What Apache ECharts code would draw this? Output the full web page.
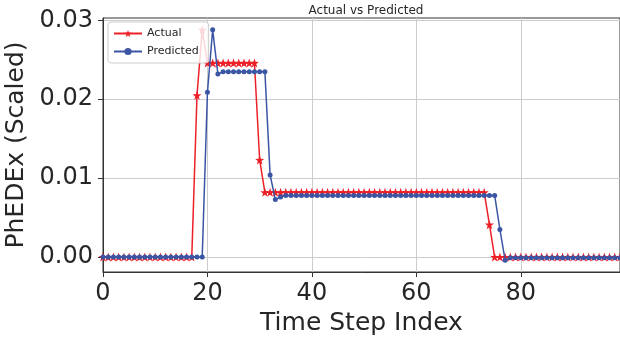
<!DOCTYPE html>
<html>
<head>
<meta charset="utf-8">
<script src="https://cdn.jsdelivr.net/npm/echarts@6/dist/echarts.min.js"></script>
<style>
  html, body { margin: 0; padding: 0; background: #fff; }
  #chart { width: 620px; height: 338px; }
</style>
</head>
<body>
<div id="chart"></div>
<script>
// values, one per time step (0..99)
var actual = [
  0, 0, 0, 0, 0, 0, 0, 0, 0, 0,
  0, 0, 0, 0, 0, 0, 0, 0, 0.0205, 0.0288,
  0.0246, 0.0246, 0.0246, 0.0246, 0.0246, 0.0246, 0.0246, 0.0246, 0.0246, 0.0246,
  0.0123, 0.0082, 0.0082, 0.0082, 0.0082, 0.0082, 0.0082, 0.0082, 0.0082, 0.0082,
  0.0082, 0.0082, 0.0082, 0.0082, 0.0082, 0.0082, 0.0082, 0.0082, 0.0082, 0.0082,
  0.0082, 0.0082, 0.0082, 0.0082, 0.0082, 0.0082, 0.0082, 0.0082, 0.0082, 0.0082,
  0.0082, 0.0082, 0.0082, 0.0082, 0.0082, 0.0082, 0.0082, 0.0082, 0.0082, 0.0082,
  0.0082, 0.0082, 0.0082, 0.0082, 0.0041, 0, 0, 0, 0, 0,
  0, 0, 0, 0, 0, 0, 0, 0, 0, 0,
  0, 0, 0, 0, 0, 0, 0, 0, 0, 0
]
var predicted = [
  0, 0, 0, 0, 0, 0, 0, 0, 0, 0,
  0, 0, 0, 0, 0, 0, 0, 0, 0, 0,
  0.0209, 0.0288, 0.0232, 0.0235, 0.0235, 0.0235, 0.0235, 0.0235, 0.0235, 0.0235,
  0.0235, 0.0235, 0.0104, 0.0073, 0.0076, 0.0078, 0.0078, 0.0078, 0.0078, 0.0078,
  0.0078, 0.0078, 0.0078, 0.0078, 0.0078, 0.0078, 0.0078, 0.0078, 0.0078, 0.0078,
  0.0078, 0.0078, 0.0078, 0.0078, 0.0078, 0.0078, 0.0078, 0.0078, 0.0078, 0.0078,
  0.0078, 0.0078, 0.0078, 0.0078, 0.0078, 0.0078, 0.0078, 0.0078, 0.0078, 0.0078,
  0.0078, 0.0078, 0.0078, 0.0078, 0.0078, 0.0078, 0.0035, -0.0004, -0.0001, -0.0001,
  -0.0001, -0.0001, -0.0001, -0.0001, -0.0001, -0.0001, -0.0001, -0.0001, -0.0001, -0.0001,
  -0.0001, -0.0001, -0.0001, -0.0001, -0.0001, -0.0001, -0.0001, -0.0001, -0.0001, -0.0001
]
var xTicks = [0, 20, 40, 60, 80]
var yTicks = [0, 0.01, 0.02, 0.03]

var toPairs = function (arr) {
  return arr.map(function (v, i) { return [i, v] })
}

var font = 'DejaVu Sans'
var ink = '#262626'

var myChart = echarts.init(document.getElementById('chart'))
myChart.setOption({
  animation: false,
  textStyle: { fontFamily: font },
  title: {
    text: 'Actual vs Predicted',
    left: 361,
    top: 0,
    textAlign: 'center',
    textStyle: { fontSize: 12, fontWeight: 'normal', color: ink, fontFamily: font }
  },
  legend: {
    orient: 'vertical',
    left: 108,
    top: 22,
    z: 10,
    itemWidth: 28,
    itemHeight: 9,
    itemGap: 7,
    padding: [6, 10, 6, 5],
    backgroundColor: 'rgba(255,255,255,0.82)',
    borderColor: '#cccccc',
    borderWidth: 1,
    borderRadius: 3,
    textStyle: { fontSize: 11, color: ink, fontFamily: font },
    data: ['Actual', 'Predicted']
  },
  grid: {
    left: 103, right: 0, top: 18, bottom: 66,
    outerBoundsMode: 'none',
    containLabel: false,
    show: true, borderColor: '#333', borderWidth: 1
  },
  xAxis: {
    type: 'value',
    min: 0,
    max: 99,
    name: 'Time Step Index',
    nameLocation: 'middle',
    nameGap: 37,
    nameTextStyle: { fontSize: 25, color: ink, fontFamily: font },
    axisLine: { onZero: false, lineStyle: { color: '#333', width: 1 } },
    axisTick: { show: true, length: 5, customValues: xTicks, lineStyle: { color: '#333' } },
    axisLabel: { customValues: xTicks, fontSize: 24, color: ink, margin: 10, fontFamily: font },
    splitLine: { show: true, lineStyle: { color: '#cccccc', width: 1 } }
  },
  yAxis: {
    type: 'value',
    min: -0.0019,
    max: 0.0303,
    name: 'PhEDEx (Scaled)',
    nameLocation: 'middle',
    nameGap: 69,
    nameTextStyle: { fontSize: 25, color: ink, fontFamily: font },
    axisLine: { show: true, onZero: false, lineStyle: { color: '#333', width: 1 } },
    axisTick: { show: true, length: 5, customValues: yTicks, lineStyle: { color: '#333' } },
    axisLabel: {
      customValues: yTicks,
      fontSize: 24, color: ink, margin: 10, fontFamily: font,
      formatter: function (v) { return v.toFixed(2) }
    },
    splitLine: { show: true, lineStyle: { color: '#cccccc', width: 1 } }
  },
  series: [{
    name: 'Actual',
    type: 'line',
    data: toPairs(actual),
    symbol: 'path://M0,-10L2.35,-3.24L9.51,-3.09L3.8,1.24L5.88,8.09L0,4L-5.88,8.09L-3.8,1.24L-9.51,-3.09L-2.35,-3.24Z',
    symbolSize: 9,
    showAllSymbol: true,
    color: '#ee2027',
    lineStyle: { color: '#ee2027', width: 1.5 },
    z: 2
  }, {
    name: 'Predicted',
    type: 'line',
    data: toPairs(predicted),
    symbol: 'circle',
    symbolSize: 5,
    showAllSymbol: true,
    color: '#3a55a4',
    lineStyle: { color: '#3a55a4', width: 1.5 },
    z: 3
  }]
})
</script>
</body>
</html>
